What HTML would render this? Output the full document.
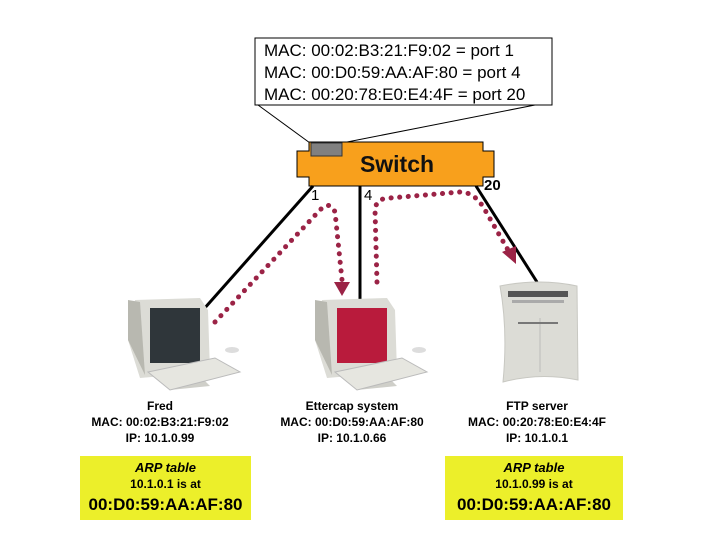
<!DOCTYPE html>
<html><head><style>
body{margin:0;width:720px;height:540px;background:#fff;position:relative;overflow:hidden;font-family:"Liberation Sans",sans-serif}
.t{position:absolute;text-align:center;font-weight:bold;font-size:12px;line-height:16px;color:#000}
.y{position:absolute;background:#ecef2a;text-align:center;font-weight:bold}
</style></head><body>
<svg width="720" height="540" style="position:absolute;left:0;top:0">
<rect x="255" y="38" width="297" height="67" fill="#fff" stroke="#000" stroke-width="1"/>
<text font-family="Liberation Sans" font-size="17" x="264" y="56">MAC: 00:02:B3:21:F9:02  = port 1</text>
<text font-family="Liberation Sans" font-size="17" x="264" y="78">MAC: 00:D0:59:AA:AF:80 = port 4</text>
<text font-family="Liberation Sans" font-size="17" x="264" y="100">MAC: 00:20:78:E0:E4:4F = port 20</text>
<line x1="258" y1="105" x2="310" y2="143" stroke="#000"/>
<line x1="535" y1="105" x2="342" y2="143" stroke="#000"/>
<polygon points="309,142 483,142 483,151 494,151 494,177 483,177 483,186 309,186 309,177 297,177 297,151 309,151" fill="#f8a01c" stroke="#000"/>
<rect x="311" y="143" width="31" height="13" fill="#808080" stroke="#333"/>
<text x="397" y="172" font-family="Liberation Sans" font-weight="bold" font-size="23" text-anchor="middle" fill="#111">Switch</text>
<text x="311" y="200" font-family="Liberation Sans" font-size="15">1</text>
<text x="364" y="200" font-family="Liberation Sans" font-size="15">4</text>
<text x="484" y="190" font-family="Liberation Sans" font-weight="bold" font-size="15">20</text>
<line x1="313" y1="186" x2="203" y2="310" stroke="#000" stroke-width="3"/>
<line x1="360" y1="186" x2="360" y2="300" stroke="#000" stroke-width="3"/>
<line x1="476" y1="186" x2="537" y2="282" stroke="#000" stroke-width="3"/>
<g fill="none" stroke="#9b2346" stroke-width="5" stroke-dasharray="0.1 8.5" stroke-linecap="round">
<path d="M215,322 L320,210 Q330,200 335,212 L342,280"/>
<path d="M377,282 L375,210 Q376,198 390,198 L460,192 Q475,192 485,210 L508,250"/>
</g>
<polygon points="334,282 350,282 342,296" fill="#9b2346"/>
<polygon points="502,252 516,246 516,264" fill="#9b2346"/>
<g>
<polygon points="135,300 200,298 208,310 210,372 140,378 128,340" fill="#dcdcd6"/>
<polygon points="128,300 140,302 145,375 128,340" fill="#b8b8b0"/>
<rect x="150" y="308" width="50" height="55" fill="#2f363a"/>
<polygon points="160,378 200,376 210,386 170,390" fill="#cfcfc9"/>
<polygon points="148,372 215,358 240,372 170,390" fill="#e6e6e0" stroke="#bbb"/>
<ellipse cx="232" cy="350" rx="7" ry="3" fill="#ddd"/>
</g>
<g>
<polygon points="322,300 387,298 395,310 397,372 327,378 315,340" fill="#dcdcd6"/>
<polygon points="315,300 327,302 332,375 315,340" fill="#b8b8b0"/>
<rect x="337" y="308" width="50" height="55" fill="#b91b3c"/>
<polygon points="347,378 387,376 397,386 357,390" fill="#cfcfc9"/>
<polygon points="335,372 402,358 427,372 357,390" fill="#e6e6e0" stroke="#bbb"/>
<ellipse cx="419" cy="350" rx="7" ry="3" fill="#ddd"/>
</g>
<g>
<path d="M500,286 Q540,278 577,286 L578,380 Q540,372 503,382 Q508,330 500,286Z" fill="#dcdcd6" stroke="#c8c8c2"/>
<rect x="508" y="291" width="60" height="6" fill="#555"/>
<rect x="512" y="300" width="52" height="3" fill="#aaa"/>
<line x1="540" y1="318" x2="540" y2="372" stroke="#bbb"/>
<rect x="518" y="322" width="40" height="2" fill="#777"/>
</g>
</svg>
<div class="t" style="left:60px;width:200px;top:398px">Fred<br>MAC: 00:02:B3:21:F9:02<br>IP: 10.1.0.99</div>
<div class="t" style="left:252px;width:200px;top:398px">Ettercap system<br>MAC: 00:D0:59:AA:AF:80<br>IP: 10.1.0.66</div>
<div class="t" style="left:437px;width:200px;top:398px">FTP server<br>MAC: 00:20:78:E0:E4:4F<br>IP: 10.1.0.1</div>
<div class="y" style="left:80px;top:456px;width:171px;height:64px">
<div style="font-size:13px;font-style:italic;margin-top:4px;line-height:16px">ARP table</div>
<div style="font-size:12px;line-height:17px">10.1.0.1 is at</div>
<div style="font-size:17px;line-height:24px">00:D0:59:AA:AF:80</div></div>
<div class="y" style="left:445px;top:456px;width:178px;height:64px">
<div style="font-size:13px;font-style:italic;margin-top:4px;line-height:16px">ARP table</div>
<div style="font-size:12px;line-height:17px">10.1.0.99 is at</div>
<div style="font-size:17px;line-height:24px">00:D0:59:AA:AF:80</div></div>
</body></html>
